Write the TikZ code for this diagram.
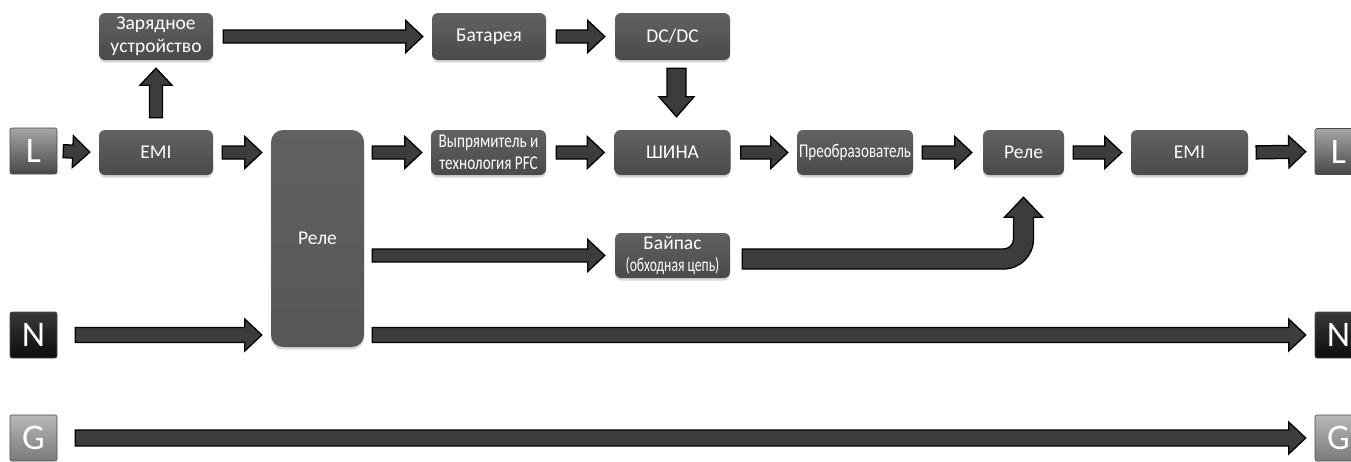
\documentclass[tikz,border=0pt]{standalone}
\usepackage{fontspec}
\setmainfont{Carlito}
\usetikzlibrary{calc,shadows}
\definecolor{boxtop}{HTML}{626262}
\definecolor{boxbot}{HTML}{4A4A4A}
\definecolor{arrowfill}{HTML}{3C3C3C}
\newcommand{\cnd}[2]{\scalebox{#1}[1]{#2}}
\tikzset{
  bw/.store in=\bw, bh/.store in=\bh, bl/.store in=\bl,
  gA/.store in=\bgA, gB/.store in=\bgB,
  bw=6.5, bh=16, bl=17, gA=9, gB=9,
  blk/.style={draw=black, line width=1.3pt, fill=arrowfill, line join=miter,
    to path={let \p1=(\tikztostart), \p2=(\tikztotarget),
      \n1={veclen(\x2-\x1,\y2-\y1)}, \n2={(\x2-\x1)/\n1}, \n3={(\y2-\y1)/\n1},
      \p3=({\x1+\bgA*(\n2)},{\y1+\bgA*(\n3)}),
      \p4=({\x2-\bgB*(\n2)},{\y2-\bgB*(\n3)}),
      \p5=({\x4-\bl*(\n2)},{\y4-\bl*(\n3)}) in
      ({\x3-\bw*(\n3)},{\y3+\bw*(\n2)}) -- ({\x5-\bw*(\n3)},{\y5+\bw*(\n2)})
      -- ({\x5-\bh*(\n3)},{\y5+\bh*(\n2)}) -- (\p4)
      -- ({\x5+\bh*(\n3)},{\y5-\bh*(\n2)}) -- ({\x5+\bw*(\n3)},{\y5-\bw*(\n2)})
      -- ({\x3+\bw*(\n3)},{\y3-\bw*(\n2)}) -- cycle}},
  box/.style={rounded corners=6pt, top color=boxtop, bottom color=boxbot, text=white,
    font=\fontsize{19.5}{22.5}\selectfont, align=center, inner sep=0pt, minimum height=45pt,
    drop shadow={shadow xshift=0pt, shadow yshift=-2.5pt, opacity=0.3}},
  term/.style={rounded corners=2pt, text=white, font=\fontsize{36}{36}\selectfont,
    inner sep=0pt, minimum width=47pt, minimum height=46pt, draw=black!70, line width=0.6pt},
  termL/.style={term, top color=black!35, bottom color=black!72},
  termN/.style={term, top color=black!78, bottom color=black!95},
  termG/.style={term, top color=black!28, bottom color=black!52},
}
\begin{document}
\begin{tikzpicture}[x=1pt,y=1pt]
\clip (0,0) rectangle (1351,-461);
\fill[white] (0,0) rectangle (1351,-461);

% terminals
\node[termL] (Ll) at (33.5,-151) {L};
\node[termL] (Lr) at (1338.5,-151.5) {L};
\node[termN] (Nl) at (33.5,-335) {N};
\node[termN] (Nr) at (1338.5,-335) {N};
\node[termG] (Gl) at (33.5,-438) {G};
\node[termG] (Gr) at (1338.5,-438) {G};

% boxes
\node[box, minimum width=114pt] (emi1) at (156,-152.5) {EMI};
\node[box, minimum width=114pt, minimum height=47pt] (chg) at (156,-36.5) {Зарядное\\устройство};
\node[box, minimum width=114pt, minimum height=47pt] (bat) at (489,-36.5) {Батарея};
\node[box, minimum width=115pt, minimum height=47pt] (dcdc) at (672.5,-36.5) {DC/DC};
\node[box, minimum width=93pt, minimum height=217pt, rounded corners=12pt,
      top color=black!62, bottom color=black!66] (rele1) at (317.5,-238.5) {\raisebox{-7pt}{Реле}};
\node[box, minimum width=115pt] (rect) at (488.5,-152.5) {\cnd{0.78}{Выпрямитель и}\\\cnd{0.78}{технология PFC}};
\node[box, minimum width=116pt] (bus) at (672.5,-152.5) {ШИНА};
\node[box, minimum width=116pt] (conv) at (855,-152.5) {\cnd{0.77}{Преобразователь}};
\node[box, minimum width=81pt] (rele2) at (1023.5,-152.5) {Реле};
\node[box, minimum width=117pt] (emi2) at (1189.5,-152.5) {EMI};
\node[box, minimum width=115pt] (byp) at (672.5,-255.5) {Байпас\\\cnd{0.7}{(обходная цепь)}};

% arrows
\draw[blk, gA=6] (Ll.east) to (emi1.west);
\draw[blk, gA=12, gB=8] (emi1.north) to (chg.south);
\draw[blk, gA=10] (chg.east) to (bat.west);
\draw[blk, gA=10, gB=10] (bat.east) to (dcdc.west);
\draw[blk, gA=8, gB=13, bw=9.5, bh=17.5, bl=20] ([xshift=4pt]dcdc.south) to ([xshift=4pt]bus.north);
\draw[blk] (emi1.east) to (rele1.west |- emi1.east);
\draw[blk, gA=8] (rele1.east |- rect.west) to (rect.west);
\draw[blk, gA=10, gB=10] (rect.east) to (bus.west);
\draw[blk, gA=10] (bus.east) to (conv.west);
\draw[blk, gB=11] (conv.east) to (rele2.west);
\draw[blk] (rele2.east) to (emi2.west);
\draw[blk, gA=8] (emi2.east) to (Lr.west);
\draw[blk, gA=8, gB=10] (rele1.east |- byp.west) to (byp.west);
\draw[blk, gA=18, bw=7.5] (Nl.east) to (rele1.west |- Nl.east);
\draw[blk, gA=8, bw=7.5] (rele1.east |- Nr.west) to (Nr.west);
\draw[blk, gA=18, bw=8] (Gl.east) to (Gr.west);

% bypass bent arrow
\draw[draw=black, line width=1.3pt, fill=arrowfill, line join=miter]
  let \p1=(byp.east), \p2=(rele2.south) in
  ({\x1+12},{\y1-3.5-10}) -- ({\x2+10-30},{\y1-3.5-10})
  arc[start angle=-90, end angle=0, radius=30pt]
  -- ({\x2+10},{\y2-42}) -- ({\x2+19},{\y2-42}) -- ({\x2},{\y2-22})
  -- ({\x2-19},{\y2-42}) -- ({\x2-10},{\y2-42})
  -- ({\x2-10},{\y1-3.5+10+10})
  arc[start angle=0, end angle=-90, radius=10pt]
  -- ({\x1+12},{\y1-3.5+10}) -- cycle;
\end{tikzpicture}
\end{document}
